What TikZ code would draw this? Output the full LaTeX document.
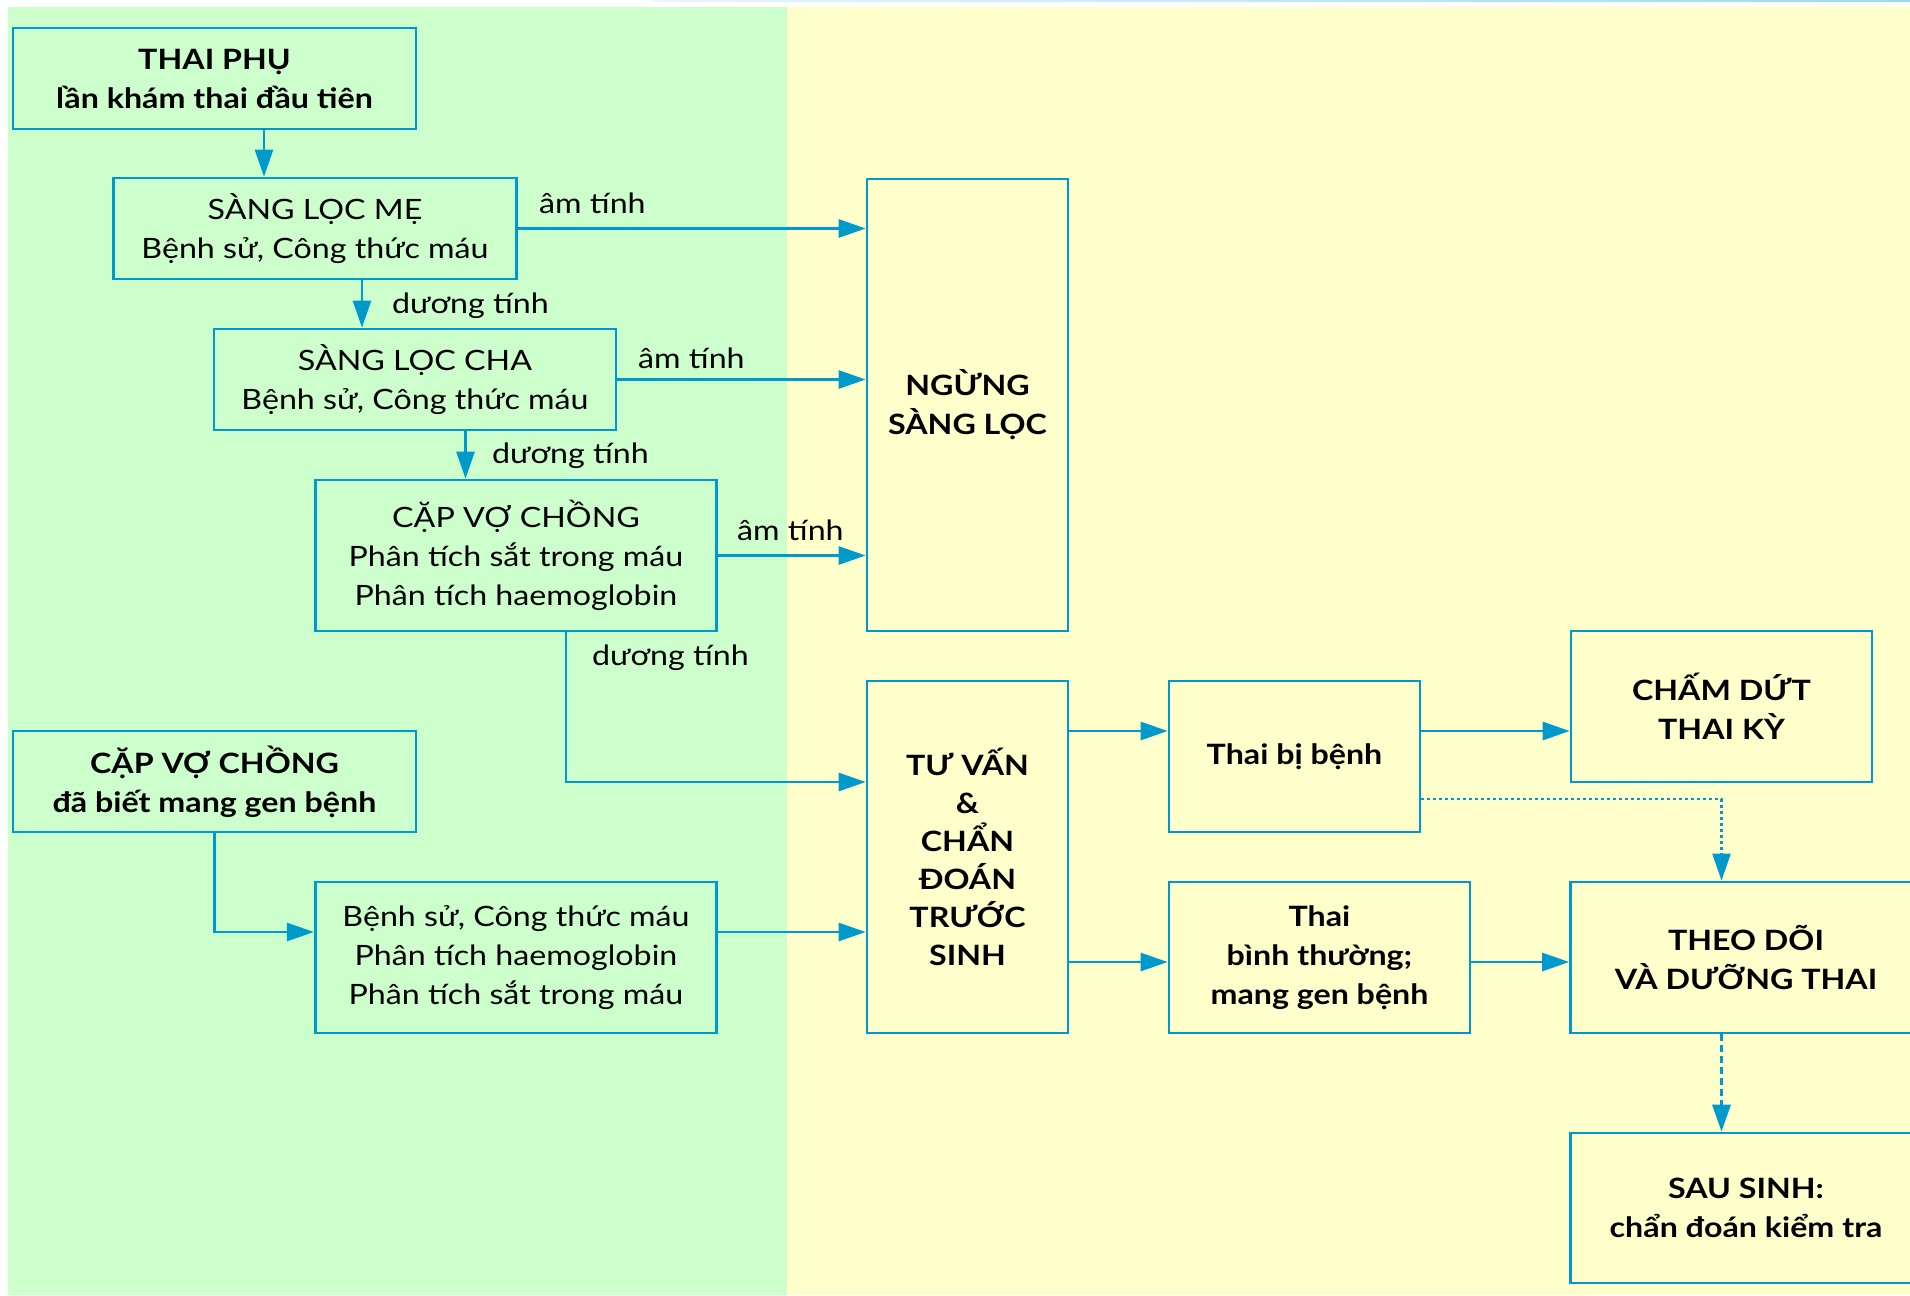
\documentclass[tikz,border=0pt]{standalone}
\usepackage{fontspec}
\setmainfont{Lato}[FakeStretch=1.15]
\usetikzlibrary{arrows.meta}

\definecolor{greenbg}{RGB}{204,255,204}
\definecolor{yellowbg}{RGB}{255,255,204}
\definecolor{flow}{RGB}{0,153,204}
\definecolor{toplight}{RGB}{232,245,250}
\definecolor{topline}{RGB}{155,218,240}

\begin{document}
\begin{tikzpicture}[x=1pt,y=-1pt,
  box/.style={draw=flow, line width=2.7pt, rectangle, inner sep=0pt, align=center,
              text=black, font=\fontsize{28}{39}\selectfont},
  bbox/.style={box, font=\fontsize{28}{39}\selectfont\bfseries},
  lbl/.style={inner sep=0pt, anchor=base west, font=\fontsize{28}{39}\selectfont},
  link/.style={draw=flow, line width=2.7pt, -{Triangle[length=27pt,width=18pt]}},
  soft/.style={link, line width=2.2pt, dash pattern=on 3pt off 3pt},
  firm/.style={link, line width=3.2pt, dash pattern=on 7pt off 4pt}
]
% canvas and the two coloured panels
\useasboundingbox (0,0) rectangle (1910,1295);
\clip (0,0) rectangle (1910,1295);
\fill[white] (0,0) rectangle (1910,1295);
\fill[yellowbg] (787,7.5) rectangle (1910,1295);
\fill[greenbg] (7.5,6.7) rectangle (787,1295);
\shade[left color=toplight, right color=topline] (653,0) rectangle (1910,2);

% screening boxes (left panel)
\node[bbox, minimum width=403pt, minimum height=101pt] (tp) at (214.5,78.5)
  {THAI PHỤ\\lần khám thai đầu tiên};
\node[box, minimum width=402.5pt, minimum height=101pt] (slm) at (315,228.5)
  {SÀNG LỌC MẸ\\Bệnh sử, Công thức máu};
\node[box, minimum width=402pt, minimum height=101pt] (slc) at (415,379.5)
  {SÀNG LỌC CHA\\Bệnh sử, Công thức máu};
\node[box, minimum width=401.5pt, minimum height=151pt] (cvc) at (516,555.5)
  {CẶP VỢ CHỒNG\\Phân tích sắt trong máu\\Phân tích haemoglobin};
\node[bbox, minimum width=403pt, minimum height=101pt] (known) at (214.5,781.5)
  {CẶP VỢ CHỒNG\\đã biết mang gen bệnh};
\node[box, minimum width=401.5pt, minimum height=151pt] (hist) at (516,957.5)
  {Bệnh sử, Công thức máu\\Phân tích haemoglobin\\Phân tích sắt trong máu};

% outcome boxes (right panel)
\node[bbox, minimum width=201pt, minimum height=452pt] (ngung) at (967.5,405)
  {NGỪNG\\SÀNG LỌC};
\node[bbox, minimum width=201pt, minimum height=352pt,
      font=\fontsize{28}{38}\selectfont\bfseries] (tv) at (967.5,857)
  {TƯ VẤN\\\&\\CHẨN\\ĐOÁN\\TRƯỚC\\SINH};
\node[bbox, minimum width=251pt, minimum height=151pt] (tbb) at (1294.5,756.5)
  {Thai bị bệnh};
\node[bbox, minimum width=301pt, minimum height=151pt] (cd) at (1721.5,706.5)
  {CHẤM DỨT\\THAI KỲ};
\node[bbox, minimum width=301pt, minimum height=151pt] (tbt) at (1319.5,957.5)
  {Thai\\bình thường;\\mang gen bệnh};
\node[bbox, minimum width=351pt, minimum height=151pt] (tdt) at (1746,957.5)
  {THEO DÕI\\VÀ DƯỠNG THAI};
\node[bbox, minimum width=351pt, minimum height=150pt] (ss) at (1746,1208)
  {SAU SINH:\\chẩn đoán kiểm tra};

% positive path downwards
\draw[link] ([xshift=49.5pt]tp.south) -- ([xshift=49.5pt]tp.south |- slm.north);
\draw[link] ([xshift=47pt]slm.south) -- ([xshift=47pt]slm.south |- slc.north);
\draw[link] ([xshift=50.5pt]slc.south) -- ([xshift=50.5pt]slc.south |- cvc.north);
\draw[link] ([xshift=50pt]cvc.south) |- ([yshift=75pt]tv.west);

% negative results stop screening
\draw[link] (slm.east) -- (slm.east -| ngung.west);
\draw[link] (slc.east) -- (slc.east -| ngung.west);
\draw[link] (cvc.east) -- (cvc.east -| ngung.west);

% known carriers
\draw[link] (known.south) |- ([yshift=25.5pt]hist.west);
\draw[link] ([yshift=25.5pt]hist.east) -- ([yshift=25.5pt]hist.east -| tv.west);

% prenatal diagnosis outcomes
\draw[link] ([yshift=25.5pt]tbb.west -| tv.east) -- ([yshift=25.5pt]tbb.west);
\draw[link] ([yshift=25.5pt]tbb.east) -- ([yshift=25.5pt]tbb.east -| cd.west);
\draw[link] ([yshift=-4.5pt]tbt.west -| tv.east) -- ([yshift=-4.5pt]tbt.west);
\draw[link] ([yshift=-4.5pt]tbt.east) -- ([yshift=-4.5pt]tbt.east -| tdt.west);
\draw[soft] ([yshift=-42.5pt]tbb.east) -| (cd.south |- tdt.north);
\draw[firm] (cd.south |- tdt.south) -- (cd.south |- ss.north);

% result labels
\node[lbl] (am1) at (539,213) {âm tính};
\node[lbl] (am2) at (638,368) {âm tính};
\node[lbl] (am3) at (737,540) {âm tính};
\node[lbl] (dt1) at (392,313) {dương tính};
\node[lbl] (dt2) at (492,463) {dương tính};
\node[lbl] (dt3) at (592,665) {dương tính};
\end{tikzpicture}
\end{document}
